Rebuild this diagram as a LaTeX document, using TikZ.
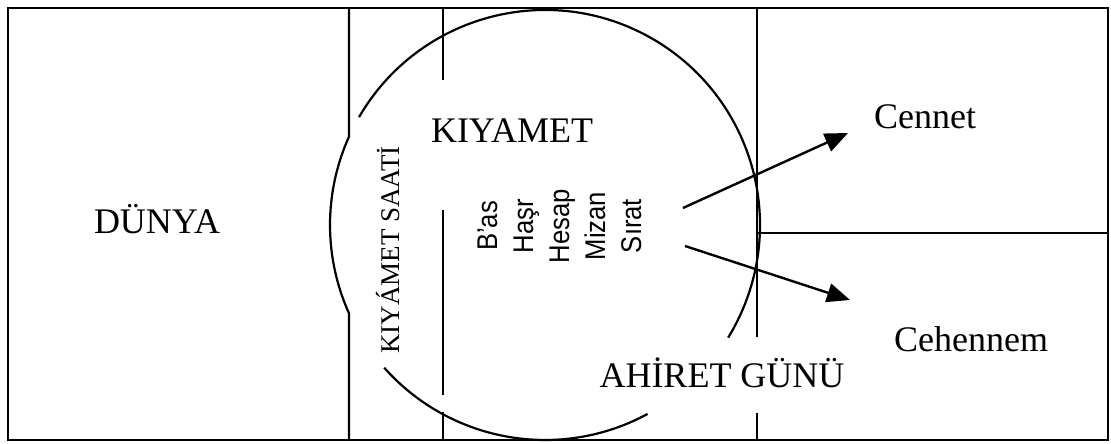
\documentclass[tikz,border=0pt]{standalone}
\usepackage{fontspec}
\setmainfont{Liberation Serif}
\newfontfamily\sansf{Liberation Sans}
\usetikzlibrary{arrows.meta}
\begin{document}
\begin{tikzpicture}[x=1pt,y=1pt, line width=2.2pt,
  big/.style={font=\fontsize{36}{36}\selectfont, inner sep=0pt, anchor=base},
  sidetxt/.style={font=\fontsize{27}{27}\selectfont, inner sep=0pt, anchor=base, rotate=90},
  stage/.style={font=\sansf\fontsize{28.5}{28.5}\selectfont, inner sep=0pt, anchor=base, rotate=90},
  arr/.style={-{Triangle[length=23pt,width=19pt]}, line width=2.4pt}]
\useasboundingbox (0,0) rectangle (1111,444);
\coordinate (C) at (545,219);
% frame
\draw (8,4) rectangle (1108,436);
% Dunya right edge with bulge
\draw (349,436) -- ([shift={(155.74:215pt)}]C) arc[start angle=155.74, end angle=204.26, radius=215pt] -- (349,4);
% circle arcs
\draw ([shift={(149.9:215pt)}]C) arc[start angle=149.9, end angle=-31.6, radius=215pt];
\draw ([shift={(221.6:215pt)}]C) arc[start angle=221.6, end angle=298.5, radius=215pt];
% dividers
\draw (443,436) -- (443,364);
\draw (443,234) -- (443,49);
\draw (443,32) -- (443,4);
\draw (757,436) -- (757,107);
\draw (757,31) -- (757,4);
\draw (757,211) -- (1108,211);
% texts
\node[big] (dunya) at (157,210) {DÜNYA};
\node[big] (cennet) at (925,315) {Cennet};
\node[big] (cehennem) at (971,92) {Cehennem};
\node[big] (ahiret) at (722,56) {AHİRET GÜNÜ};
\node[big] (kiyamet) at (512,301) {KIYAMET};
\node[sidetxt] (saat) at (399,194) {KIYÁMET SAATİ};
\node[stage] (bas) at (497,218) {\scalebox{0.9}[1]{B’as}};
\node[stage] (hasr) at (533,218) {\scalebox{0.9}[1]{Haşr}};
\node[stage] (hesap) at (569,218) {\scalebox{0.9}[1]{Hesap}};
\node[stage] (mizan) at (605,218) {\scalebox{0.9}[1]{Mizan}};
\node[stage] (sirat) at (641,218) {\scalebox{0.9}[1]{Sırat}};
% arrows
\coordinate (c1s) at (683,236);
\coordinate (c1e) at (848,311);
\coordinate (c2s) at (685,198);
\coordinate (c2e) at (850,144);
\draw[arr] (c1s) -- (c1e);
\draw[arr] (c2s) -- (c2e);
\end{tikzpicture}
\end{document}
